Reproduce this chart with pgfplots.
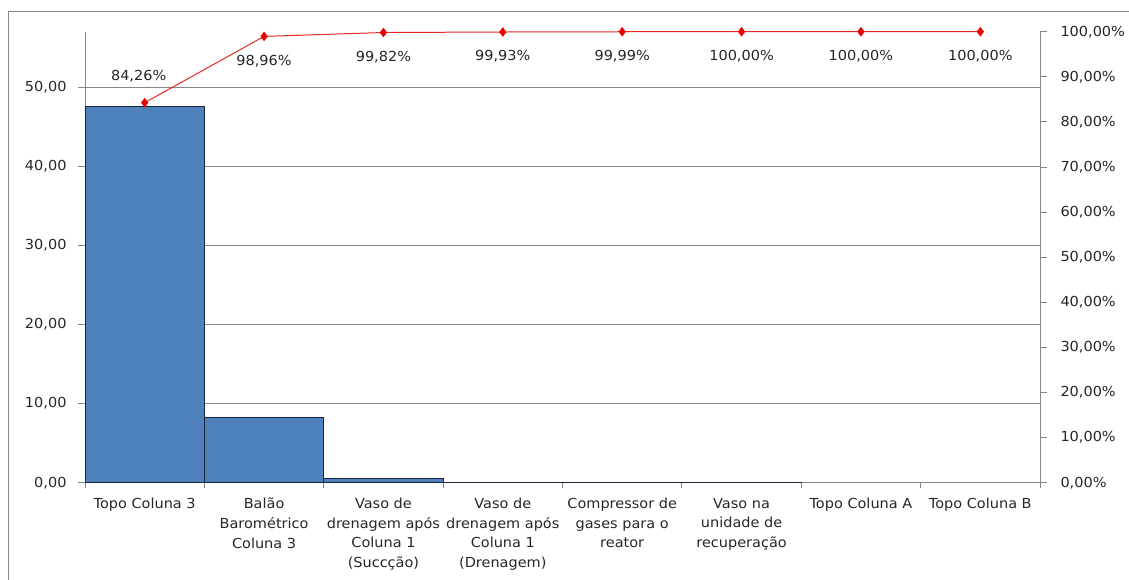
\documentclass[border=0pt]{standalone}
\usepackage{pgfplots}
\pgfplotsset{compat=1.18}
\usepackage{fontspec}
\setmainfont{DejaVu Sans}[FakeStretch=1.05]

\definecolor{barblue}{RGB}{79,129,189}
\definecolor{baredge}{RGB}{25,35,55}
\definecolor{axisgray}{RGB}{134,134,134}
\definecolor{linered}{RGB}{230,40,40}
\definecolor{markred}{RGB}{235,0,0}

\newcommand{\lblfont}{\fontsize{13.8bp}{19.6bp}\selectfont}

\begin{document}
\begin{tikzpicture}
  \useasboundingbox (0,0) rectangle (1129bp,580bp);
  % outer chart frame (cropped at right and bottom)
  \draw[axisgray, line width=1bp] (8bp,0) -- (8bp,568bp) -- (1129bp,568bp);

  % bars, left axis
  \begin{axis}[
    scale only axis,
    width=955bp, height=451bp,
    at={(85bp,97.3bp)}, anchor=south west,
    xmin=-0.5, xmax=7.5,
    ymin=0, ymax=57,
    axis x line*=bottom,
    axis y line*=left,
    axis line style={axisgray, line width=0.8bp},
    tick align=outside,
    xtick={0,...,7},
    major x tick style={draw=none},
    minor xtick={-0.5,0.5,...,7.5},
    minor tick length=5bp,
    minor x tick style={axisgray, line width=0.8bp},
    xticklabels={
      Topo Coluna 3,
      Balão\\Barométrico\\Coluna 3,
      Vaso de\\drenagem após\\Coluna 1\\(Succção),
      Vaso de\\drenagem após\\Coluna 1\\(Drenagem),
      Compressor de\\gases para o\\reator,
      Vaso na\\unidade de\\recuperação,
      Topo Coluna A,
      Topo Coluna B
    },
    xticklabel style={align=center, font=\lblfont, text=black!85, anchor=north, yshift=-5bp},
    ytick={0,10,...,50},
    major tick length=7bp,
    y tick style={axisgray, line width=0.8bp},
    ymajorgrids=true,
    grid style={axisgray, line width=0.8bp},
    yticklabel style={font=\lblfont, text=black!85, xshift=-8bp,
      /pgf/number format/.cd, fixed, fixed zerofill, precision=2, use comma, 1000 sep={}},
    /pgf/number format/assume math mode=true,
    y filter/.expression={y==0 ? nan : y},
  ]
    \addplot[ybar, bar width=1, fill=barblue, draw=baredge, line width=0.8bp]
      coordinates {(0,47.53) (1,8.29) (2,0.485) (3,0.062) (4,0.034) (5,0.006) (6,0) (7,0)};
  \end{axis}

  % cumulative percentage, right axis
  \begin{axis}[
    scale only axis,
    width=955bp, height=451bp,
    at={(85bp,97.3bp)}, anchor=south west,
    xmin=-0.5, xmax=7.5,
    ymin=0, ymax=100,
    axis x line=none,
    axis y line*=right,
    axis line style={axisgray, line width=0.8bp},
    tick align=outside,
    major tick length=7bp,
    ytick={0,10,...,100},
    y tick style={axisgray, line width=0.8bp},
    yticklabel={\pgfmathprintnumber[fixed, fixed zerofill, precision=2, use comma]{\tick}\%},
    yticklabel style={font=\lblfont, text=black!85, xshift=10bp},
    /pgf/number format/assume math mode=true,
    clip=false,
  ]
    \addplot[linered, line width=1bp, mark=diamond*,
      mark options={markred, draw=markred, scale=2}]
      coordinates {(0,84.26) (1,98.96) (2,99.82) (3,99.93) (4,99.99) (5,100) (6,100) (7,100)};
    % data labels: first above the point, the others below
    \addplot[draw=none, nodes near coords={\pgfmathprintnumber[fixed, fixed zerofill, precision=2, use comma]{\pgfplotspointmeta}\%},
      nodes near coords style={font=\lblfont, text=black!85, anchor=south, yshift=17bp, xshift=-6bp}]
      coordinates {(0,84.26)};
    \addplot[draw=none, nodes near coords={\pgfmathprintnumber[fixed, fixed zerofill, precision=2, use comma]{\pgfplotspointmeta}\%},
      nodes near coords style={font=\lblfont, text=black!85, anchor=north, yshift=-15bp}]
      coordinates {(1,98.96) (2,99.82) (3,99.93) (4,99.99) (5,100) (6,100) (7,100)};
  \end{axis}
\end{tikzpicture}
\end{document}
